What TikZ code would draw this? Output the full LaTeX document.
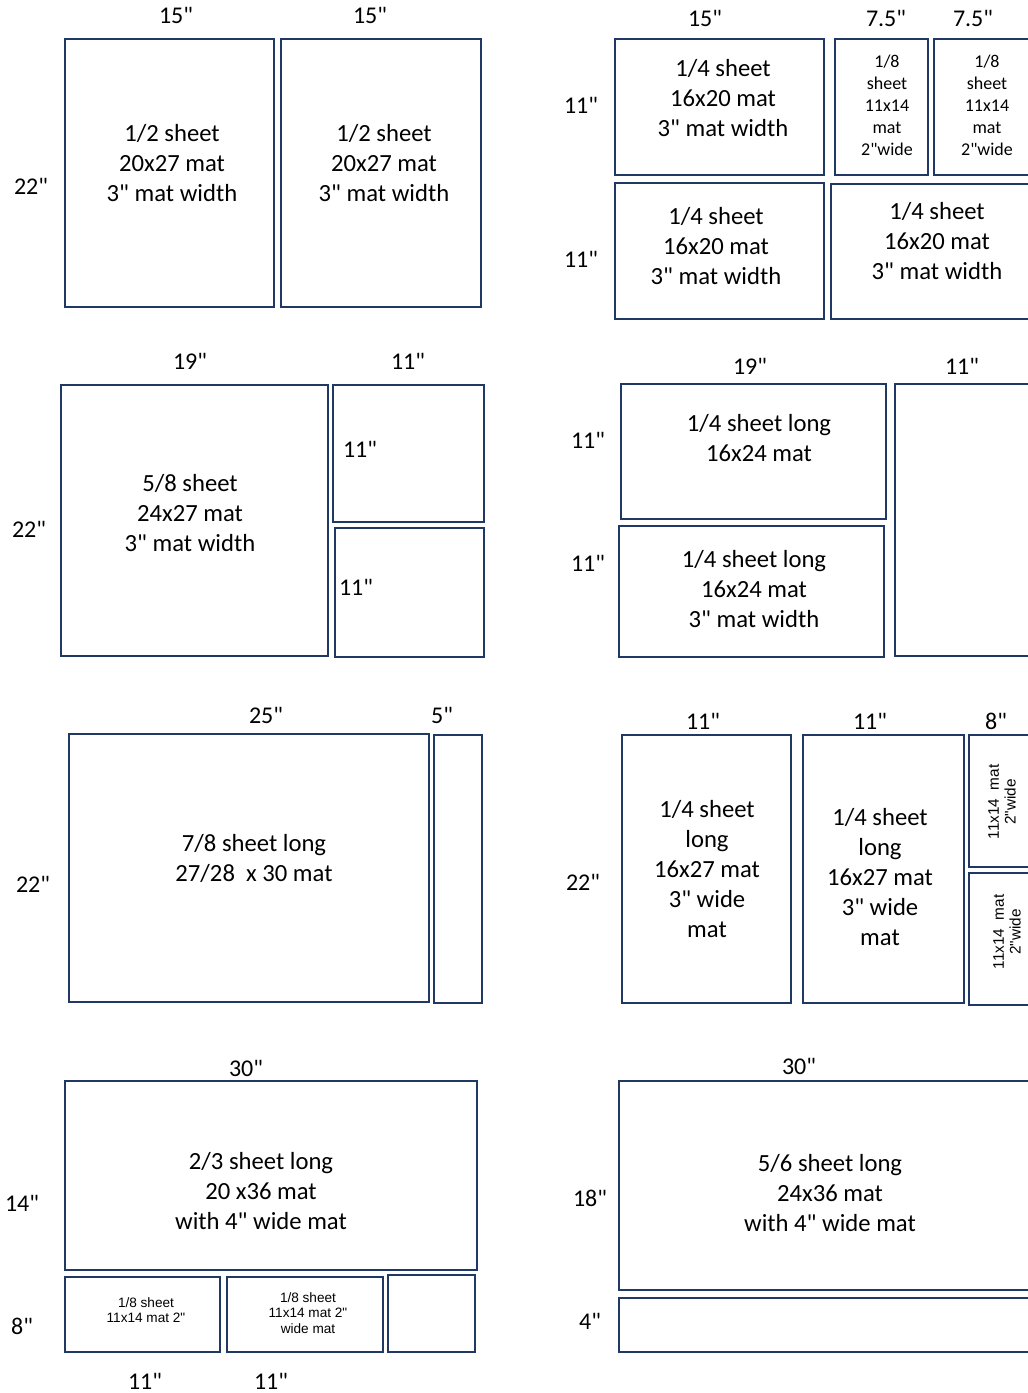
\documentclass[tikz,border=0pt]{standalone}
\usepackage{fontspec}
\setmainfont{Carlito}[Ligatures=TeXOff]
\newfontfamily\arialfont{Liberation Sans}[Ligatures=TeXOff]
\definecolor{matnavy}{HTML}{1F3864}
\tikzset{
  matline/.style={draw=matnavy,line width=2pt},
  mattext/.style={align=center,font=\fontsize{18.5}{22.5}\selectfont,inner sep=0pt},
  dimlbl/.style={font=\fontsize{18}{21}\selectfont,inner sep=0pt},
  eighthtext/.style={align=center,font=\fontsize{13.5}{16.5}\selectfont,inner sep=0pt},
  tinytext/.style={align=center,font=\arialfont\fontsize{10.2}{11.5}\selectfont,inner sep=0pt},
  sidetext/.style={align=center,font=\arialfont\fontsize{11.5}{12.5}\selectfont,inner sep=0pt,rotate=90}
}
\begin{document}
\begin{tikzpicture}[x=0.75pt,y={(0pt,-0.75pt)}]
  \clip (0,0) rectangle (1028,1393);
  \fill[white] (0,0) rectangle (1028,1393);
  % two half sheets
  \draw[matline] (65,39) rectangle (274,307);
  \draw[matline] (281,39) rectangle (481,307);
  \node[mattext] (half1) at (172,163) {1/2 sheet\\20x27 mat\\3" mat width};
  \node[mattext] (half2) at (384,163) {1/2 sheet\\20x27 mat\\3" mat width};
  \node[dimlbl] (w15a) at (176,15) {15"};
  \node[dimlbl] (w15b) at (370,15) {15"};
  \node[dimlbl] (h22a) at (31,186) {22"};
  % quarter and eighth sheets
  \draw[matline] (615,39) rectangle (824,175);
  \draw[matline] (835,39) rectangle (928,175);
  \draw[matline] (934,39) rectangle (1040,175);
  \draw[matline] (615,183) rectangle (824,319);
  \draw[matline] (831,184) rectangle (1040,319);
  \node[mattext] (qtr1) at (723,98) {1/4 sheet\\16x20 mat\\3" mat width};
  \node[eighthtext] (eig1) at (887,105) {1/8\\sheet\\11x14\\mat\\2"wide};
  \node[eighthtext] (eig2) at (987,105) {1/8\\sheet\\11x14\\mat\\2"wide};
  \node[mattext] (qtr2) at (716,246) {1/4 sheet\\16x20 mat\\3" mat width};
  \node[mattext] (qtr3) at (937,241) {1/4 sheet\\16x20 mat\\3" mat width};
  \node[dimlbl] (w15c) at (705,18) {15"};
  \node[dimlbl] (w75a) at (886,18) {7.5"};
  \node[dimlbl] (w75b) at (973,18) {7.5"};
  \node[dimlbl] (h11a) at (581,105) {11"};
  \node[dimlbl] (h11b) at (581,259) {11"};
  % five eighths sheet
  \draw[matline] (61,385) rectangle (328,656);
  \draw[matline] (333,385) rectangle (484,522);
  \draw[matline] (335,528) rectangle (484,657);
  \node[mattext] (fiv8) at (190,513) {5/8 sheet\\24x27 mat\\3" mat width};
  \node[dimlbl] (in11a) at (360,449) {11"};
  \node[dimlbl] (in11b) at (356,587) {11"};
  \node[dimlbl] (w19a) at (190,361) {19"};
  \node[dimlbl] (w11a) at (408,361) {11"};
  \node[dimlbl] (h22b) at (29,529) {22"};
  % quarter sheets long
  \draw[matline] (621,384) rectangle (886,519);
  \draw[matline] (619,526) rectangle (884,657);
  \draw[matline] (895,384) rectangle (1040,656);
  \node[mattext] (long1) at (759,438) {1/4 sheet long\\16x24 mat};
  \node[mattext] (long2) at (754,589) {1/4 sheet long\\16x24 mat\\3" mat width};
  \node[dimlbl] (w19b) at (750,366) {19"};
  \node[dimlbl] (w11b) at (962,366) {11"};
  \node[dimlbl] (h11c) at (588,440) {11"};
  \node[dimlbl] (h11d) at (588,563) {11"};
  % seven eighths sheet long
  \draw[matline] (69,734) rectangle (429,1002);
  \draw[matline] (434,735) rectangle (482,1003);
  \node[mattext] (sev8) at (254,858) {7/8 sheet long\\27/28 \ x 30 mat};
  \node[dimlbl] (w25) at (266,715) {25"};
  \node[dimlbl] (w5) at (442,715) {5"};
  \node[dimlbl] (h22c) at (33,884) {22"};
  % quarter sheets long, upright
  \draw[matline] (622,735) rectangle (791,1003);
  \draw[matline] (803,735) rectangle (964,1003);
  \draw[matline] (969,735) rectangle (1040,867);
  \draw[matline] (969,873) rectangle (1040,1005);
  \node[mattext] (up1) at (707,869) {1/4 sheet\\long\\16x27 mat\\3" wide\\mat};
  \node[mattext] (up2) at (880,877) {1/4 sheet\\long\\16x27 mat\\3" wide\\mat};
  \node[sidetext] (side1) at (1002,802) {11x14 \ mat\\2"wide};
  \node[sidetext] (side2) at (1007,932) {11x14 \ mat\\2"wide};
  \node[dimlbl] (w11c) at (703,721) {11"};
  \node[dimlbl] (w11d) at (870,721) {11"};
  \node[dimlbl] (w8) at (996,721) {8"};
  \node[dimlbl] (h22d) at (583,882) {22"};
  % two thirds sheet long
  \draw[matline] (65,1081) rectangle (477,1270);
  \draw[matline] (65,1277) rectangle (220,1352);
  \draw[matline] (227,1277) rectangle (383,1352);
  \draw[matline] (388,1275) rectangle (475,1352);
  \node[mattext] (two3) at (261,1191) {2/3 sheet long\\20 x36 mat\\with 4" wide mat};
  \node[tinytext] (sm1) at (146,1310) {1/8 sheet\\11x14 mat 2"};
  \node[tinytext] (sm2) at (308,1313) {1/8 sheet\\11x14 mat 2"\\wide mat};
  \node[dimlbl] (w30a) at (246,1068) {30"};
  \node[dimlbl] (h14) at (22,1203) {14"};
  \node[dimlbl] (h8) at (22,1326) {8"};
  \node[dimlbl] (w11e) at (145,1381) {11"};
  \node[dimlbl] (w11f) at (271,1381) {11"};
  % five sixths sheet long
  \draw[matline] (619,1081) rectangle (1040,1290);
  \draw[matline] (619,1298) rectangle (1040,1352);
  \node[mattext] (fiv6) at (830,1193) {5/6 sheet long\\24x36 mat\\with 4" wide mat};
  \node[dimlbl] (w30b) at (799,1066) {30"};
  \node[dimlbl] (h18) at (590,1198) {18"};
  \node[dimlbl] (h4) at (590,1321) {4"};
\end{tikzpicture}
\end{document}
